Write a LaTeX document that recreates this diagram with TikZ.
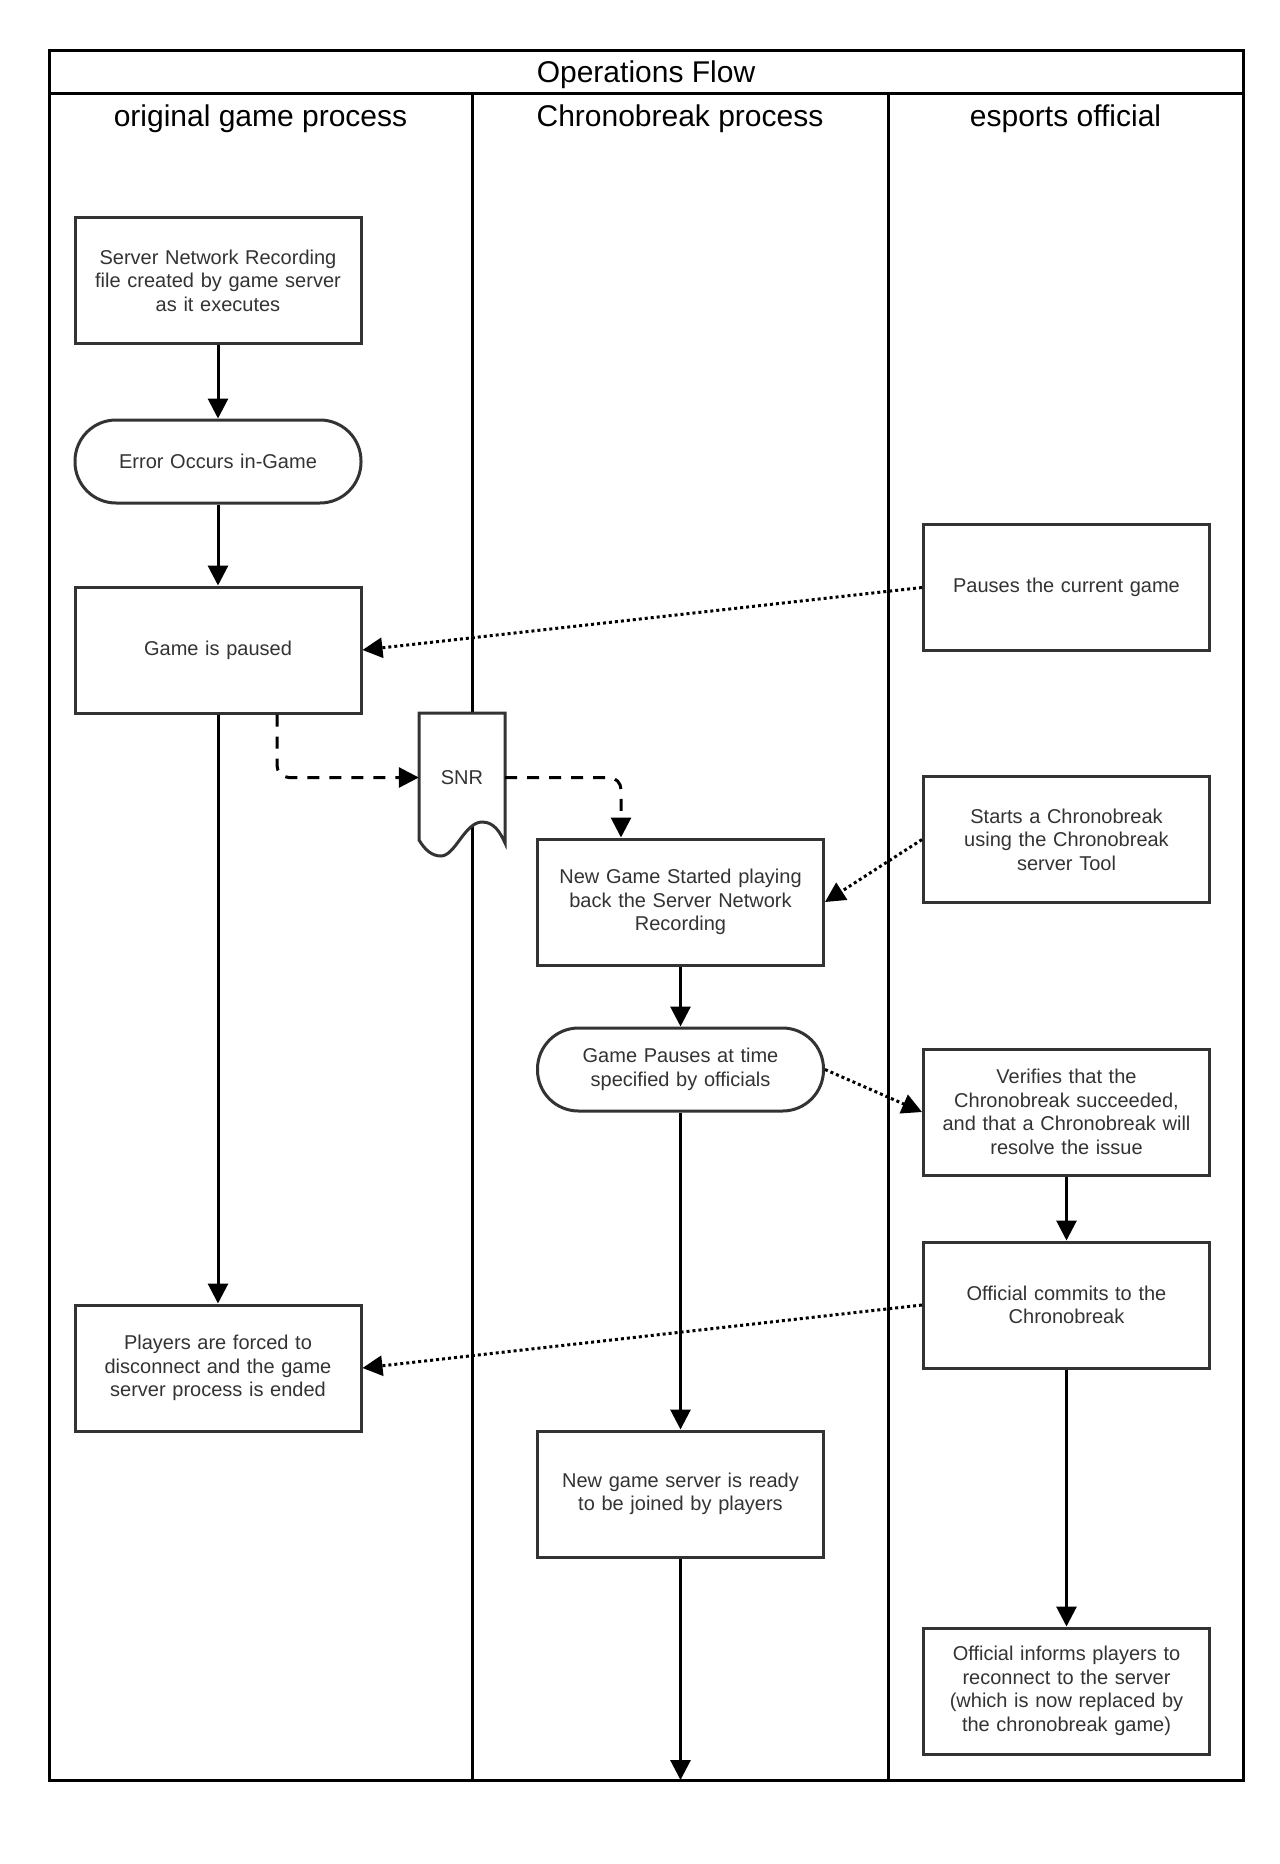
\documentclass[tikz,border=0pt]{standalone}
\usepackage{fontspec}
\setmainfont{Liberation Sans}
\usetikzlibrary{arrows.meta,calc}
\definecolor{boxline}{HTML}{333333}
\definecolor{txt}{HTML}{333333}
\begin{document}
\begin{tikzpicture}[x=1pt,y=-1pt,
  box/.style={draw=boxline, line width=3pt, fill=white, minimum width=286pt, minimum height=126pt, text width=280pt, align=center, font=\fontsize{20}{23.5}\selectfont, text=txt, inner sep=0pt},
  term/.style={box, minimum height=83pt, rounded corners=41pt},
  flow/.style={line width=3pt, -{Triangle[width=20pt,length=20pt]}},
  dotflow/.style={flow, dash pattern=on 3pt off 3pt},
  dshflow/.style={flow, dash pattern=on 12pt off 10pt, rounded corners=12pt},
  lane/.style={line width=3pt},
  head/.style={font=\fontsize{30}{36}\selectfont, text=black, inner sep=0pt}
]
\useasboundingbox (0,0) rectangle (1280,1864);
% frame
\draw[lane] (49,50) rectangle (1243,1780);
\draw[lane] (49,93) -- (1243,93);
\draw[lane] (472,93) -- (472,1780);
\draw[lane] (888,93) -- (888,1780);
\node[head] (title) at (646,74.5) {Operations Flow};
\node[head] (h1) at (260.5,118.5) {original game process};
\node[head] (h2) at (680,118.5) {Chronobreak process};
\node[head] (h3) at (1065.5,118.5) {esports official};
% SNR document
\draw[draw=boxline, line width=3pt, fill=white] (419,713) -- (505,713) -- (505,843)
  .. controls (500,832) and (494,822) .. (482,822)
  .. controls (465,822) and (455,856) .. (441,856)
  .. controls (432,856) and (425,850) .. (419,840) -- cycle;
\node[minimum width=86pt, minimum height=127pt, inner sep=0pt, font=\fontsize{20}{23.5}\selectfont, text=txt] (snr) at (462,777.5) {SNR};
% nodes
\node[box] (n1) at (218,280.5) {Server Network Recording\\file created by game server\\as it executes};
\node[term] (n2) at (218,461.5) {Error Occurs in-Game};
\node[box] (n3) at (218,650) {Game is paused};
\node[box] (n4) at (218,1368) {Players are forced to\\disconnect and the game\\server process is ended};
\node[box] (n6) at (680.5,902) {New Game Started playing\\back the Server Network\\Recording};
\node[term] (n7) at (680.5,1069.5) {Game Pauses at time\\specified by officials};
\node[box] (n8) at (680.5,1494) {New game server is ready\\to be joined by players};
\node[box] (n9) at (1066.5,587.5) {Pauses the current game};
\node[box] (n10) at (1066.5,839.5) {Starts a Chronobreak\\using the Chronobreak\\server Tool};
\node[box] (n11) at (1066.5,1112) {Verifies that the\\Chronobreak succeeded,\\and that a Chronobreak will\\resolve the issue};
\node[box] (n12) at (1066.5,1305) {Official commits to the\\Chronobreak};
\node[box] (n13) at (1066.5,1691) {Official informs players to\\reconnect to the server\\(which is now replaced by\\the chronobreak game)};
\coordinate (bottomend) at (680.5,1780);
% connectors
\draw[flow] (n1) -- (n2);
\draw[flow] (n2) -- (n3);
\draw[flow] (n3) -- (n4);
\draw[flow] (n6) -- (n7);
\draw[flow] (n7) -- (n8);
\draw[flow] (n8) -- (bottomend);
\draw[flow] (n11) -- (n12);
\draw[flow] (n12) -- (n13);
\draw[dotflow] (n9.west) -- (n3.east);
\draw[dotflow] (n10.west) -- (n6.east);
\draw[dotflow] (n7.east) -- (n11.west);
\draw[dotflow] (n12.west) -- (n4.east);
\draw[dshflow] ([xshift=59pt]n3.south) |- (snr.west);
\draw[dshflow] (snr.east) -| ([xshift=-59.5pt]n6.north);
\end{tikzpicture}
\end{document}
